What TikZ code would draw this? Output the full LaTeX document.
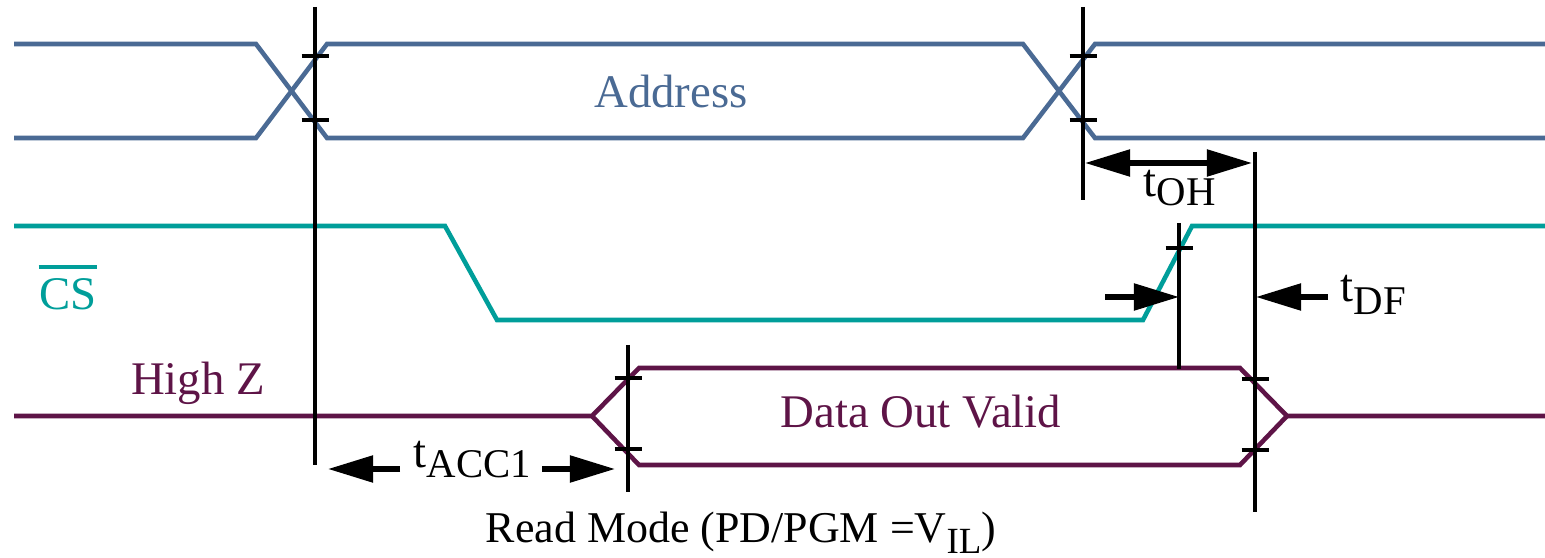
\documentclass[tikz,border=0pt]{standalone}
\usepackage{fontspec}
\setmainfont{Liberation Serif}
\usetikzlibrary{arrows.meta}
\definecolor{addrc}{HTML}{4A6A94}
\definecolor{csc}{HTML}{009E9A}
\definecolor{datc}{HTML}{5E1447}
\newcommand{\tlab}[2]{t\raisebox{-#2}{\fontsize{11.6}{13}\selectfont #1}}
\begin{document}
\begin{tikzpicture}[x=0.01cm,y=-0.01cm,
  wave/.style={line width=1.3pt, line join=miter},
  vline/.style={line width=0.9pt, black},
  tickmark/.style={line width=0.9pt, black},
  dimarrow/.style={line width=1.5pt, -{Triangle[length=0.45cm,width=0.26cm]}},
  dimboth/.style={line width=1.5pt, {Triangle[length=0.45cm,width=0.26cm]}-{Triangle[length=0.45cm,width=0.26cm]}},
  lbl/.style={font=\fontsize{13.3}{16}\selectfont, inner sep=0pt}]
\useasboundingbox (0,0) rectangle (1545,558);

% waveforms
\draw[wave,addrc] (14,44) -- (256,44) -- (327,138) -- (1023,138) -- (1095,44) -- (1545,44);
\draw[wave,addrc] (14,138) -- (256,138) -- (327,44) -- (1023,44) -- (1095,138) -- (1545,138);
\draw[wave,csc] (14,226) -- (445,226) -- (497,320) -- (1143,320) -- (1192,226) -- (1545,226);
\draw[wave,datc] (14,416) -- (592,416) -- (639,368) -- (1240,368) -- (1287,416) -- (1545,416);
\draw[wave,datc] (592,416) -- (639,465) -- (1240,465) -- (1287,416);

% vertical reference lines
\coordinate (v1t) at (315,7);   \coordinate (v1b) at (315,465);
\coordinate (v2t) at (1083,7);  \coordinate (v2b) at (1083,200);
\coordinate (v3t) at (1255,152); \coordinate (v3b) at (1255,512);
\coordinate (v4t) at (1179,223); \coordinate (v4b) at (1179,369);
\coordinate (v5t) at (628,345);  \coordinate (v5b) at (628,492);
\foreach \a/\b in {v1t/v1b,v2t/v2b,v3t/v3b,v4t/v4b,v5t/v5b}
  \draw[vline] (\a) -- (\b);

% tick marks
\foreach \x/\y in {315/56,315/120,1083/56,1083/120,1179/248,628/378,628/449,1255/379,1255/450}
  \draw[tickmark] (\x-13.5,\y) -- (\x+13.5,\y);

% timing arrows
\coordinate (oh1) at (1085,163); \coordinate (oh2) at (1252,163);
\draw[dimboth] (oh1) -- (oh2);
\coordinate (df1) at (1105,297); \coordinate (df1t) at (1179,297);
\coordinate (df2) at (1328,297); \coordinate (df2t) at (1256,297);
\draw[dimarrow] (df1) -- (df1t);
\draw[dimarrow] (df2) -- (df2t);
\coordinate (ac1) at (400,469); \coordinate (ac1t) at (328,469);
\coordinate (ac2) at (542,469); \coordinate (ac2t) at (615,469);
\draw[dimarrow] (ac1) -- (ac1t);
\draw[dimarrow] (ac2) -- (ac2t);

% labels
\node[lbl,addrc,anchor=base] (addr) at (671,108) {Address};
\node[lbl,csc,anchor=base] (cs) at (68,310) {CS};
\draw[csc,line width=1pt] ([yshift=3.2pt]cs.north west) -- ([yshift=3.2pt]cs.north east);
\node[lbl,datc,anchor=base] (hiz) at (198,395) {High Z};
\node[lbl,datc,anchor=base] (dov) at (921,428) {Data Out Valid};
\node[lbl,anchor=base west] (toh) at (1143,197) {\tlab{OH}{2.4pt}};
\node[lbl,anchor=base west] (tdf) at (1340,302) {\tlab{DF}{3.5pt}};
\node[lbl,anchor=base west] (tacc) at (413,468) {\tlab{ACC1}{2.6pt}};
\node[anchor=base, inner sep=0pt, font=\fontsize{12.5}{15}\selectfont] (mode) at (741,543)
  {Read Mode (PD/PGM =V\raisebox{-3pt}{\fontsize{10.5}{12}\selectfont IL})};
\end{tikzpicture}
\end{document}
